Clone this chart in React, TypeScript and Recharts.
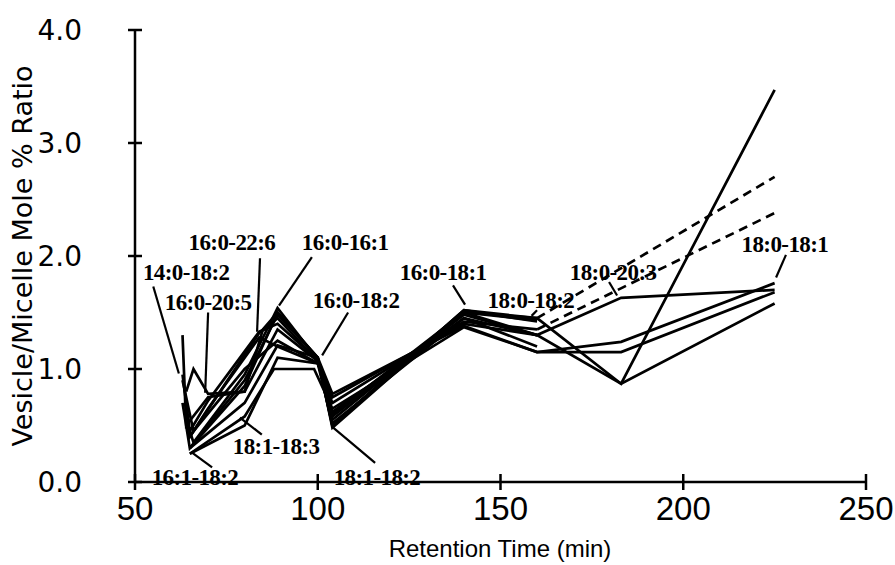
import React from 'react';
import { LineChart, Line, XAxis, YAxis, ReferenceLine, ReferenceDot } from 'recharts';

// retention time (min) / vesicle:micelle mole % ratio, one pair per species
const RT_14_0_18_2 = [63, 64, 70, 80, 89, 100, 104, 140, 160];
const RATIO_14_0_18_2 = [1.3, 0.5, 0.75, 0.8, 1.35, 1.07, 0.58, 1.48, 1.3];

const RT_16_0_20_5 = [64, 66, 70, 80, 85, 89, 100, 104, 140, 160];
const RATIO_16_0_20_5 = [0.8, 1.0, 0.78, 0.8, 1.35, 1.5, 1.1, 0.5, 1.52, 1.42];

const RT_16_0_22_6 = [63, 65, 70, 84, 89, 100, 104, 140, 160];
const RATIO_16_0_22_6 = [0.95, 0.45, 0.72, 1.33, 1.4, 1.08, 0.62, 1.45, 1.3];

const RT_16_0_16_1 = [64, 66, 80, 89, 100, 104, 140, 160, 183, 225];
const RATIO_16_0_16_1 = [0.55, 0.35, 0.95, 1.54, 1.08, 0.5, 1.52, 1.45, 0.87, 3.47];

const RT_16_0_18_2 = [63, 65, 80, 89, 100, 104, 140, 160, 183, 225];
const RATIO_16_0_18_2 = [0.7, 0.3, 0.85, 1.5, 1.1, 0.55, 1.5, 1.3, 0.87, 1.58];

const RT_16_0_18_1 = [64, 65, 84, 89, 100, 104, 140, 160];
const RATIO_16_0_18_1 = [0.6, 0.4, 1.32, 1.45, 1.07, 0.6, 1.5, 1.45];

const RT_18_0_18_2 = [63, 66, 80, 89, 100, 104, 140, 160];
const RATIO_18_0_18_2 = [0.9, 0.45, 1.0, 1.25, 1.05, 0.7, 1.42, 1.35];

const RT_18_0_20_3 = [65, 70, 84, 89, 100, 104, 140, 160, 183, 225];
const RATIO_18_0_20_3 = [0.4, 0.65, 1.28, 1.2, 1.05, 0.75, 1.4, 1.3, 1.63, 1.7];

const RT_18_0_18_1 = [65, 80, 89, 100, 104, 140, 160, 183, 225];
const RATIO_18_0_18_1 = [0.3, 0.7, 1.21, 1.1, 0.78, 1.38, 1.15, 1.24, 1.76];

const RT_18_1_18_3 = [65, 80, 88, 99, 104, 140, 160, 183, 225];
const RATIO_18_1_18_3 = [0.25, 0.58, 1.0, 1.0, 0.65, 1.37, 1.15, 1.15, 1.68];

const RT_16_1_18_2 = [65, 80, 89, 100, 104, 140, 160];
const RATIO_16_1_18_2 = [0.25, 0.5, 1.1, 1.05, 0.52, 1.45, 1.2];

const RT_18_1_18_2 = [65, 80, 89, 100, 104, 140, 160];
const RATIO_18_1_18_2 = [0.3, 0.9, 1.48, 1.1, 0.48, 1.5, 1.43];

// dashed extrapolations
const RT_TAIL = [160, 225];
const RATIO_16_0_18_1_TAIL = [1.45, 2.7];
const RATIO_18_0_18_2_TAIL = [1.35, 2.38];

const X_TICKS = [50, 100, 150, 200, 250];
const Y_TICKS = [0, 1, 2, 3, 4];

const toPoints = (xs: number[], ys: number[]) => xs.map((x, i) => ({ x, y: ys[i] }));

const SERIES = [
  { name: '14:0-18:2', data: toPoints(RT_14_0_18_2, RATIO_14_0_18_2) },
  { name: '16:0-20:5', data: toPoints(RT_16_0_20_5, RATIO_16_0_20_5) },
  { name: '16:0-22:6', data: toPoints(RT_16_0_22_6, RATIO_16_0_22_6) },
  { name: '16:0-16:1', data: toPoints(RT_16_0_16_1, RATIO_16_0_16_1) },
  { name: '16:0-18:2', data: toPoints(RT_16_0_18_2, RATIO_16_0_18_2) },
  { name: '16:0-18:1', data: toPoints(RT_16_0_18_1, RATIO_16_0_18_1) },
  { name: '18:0-18:2', data: toPoints(RT_18_0_18_2, RATIO_18_0_18_2) },
  { name: '18:0-20:3', data: toPoints(RT_18_0_20_3, RATIO_18_0_20_3) },
  { name: '18:0-18:1', data: toPoints(RT_18_0_18_1, RATIO_18_0_18_1) },
  { name: '18:1-18:3', data: toPoints(RT_18_1_18_3, RATIO_18_1_18_3) },
  { name: '16:1-18:2', data: toPoints(RT_16_1_18_2, RATIO_16_1_18_2) },
  { name: '18:1-18:2', data: toPoints(RT_18_1_18_2, RATIO_18_1_18_2) },
];

const TAILS = [
  { name: '16:0-18:1 tail', data: toPoints(RT_TAIL, RATIO_16_0_18_1_TAIL) },
  { name: '18:0-18:2 tail', data: toPoints(RT_TAIL, RATIO_18_0_18_2_TAIL) },
];

// species labels with their leader lines (data coords)
const ANNOTATIONS = [
  { text: '14:0-18:2', x: 64, y: 1.85, from: [55, 1.73], to: [62, 0.96] },
  { text: '16:0-20:5', x: 70, y: 1.59, from: [70, 1.5], to: [69.2, 0.79] },
  { text: '16:0-22:6', x: 76.5, y: 2.12, from: [84.2, 1.98], to: [83.4, 1.33] },
  { text: '16:0-16:1', x: 107.5, y: 2.12, from: [98.4, 1.99], to: [89.4, 1.56] },
  { text: '16:0-18:2', x: 110.5, y: 1.61, from: [108.3, 1.5], to: [101.2, 1.12] },
  { text: '16:0-18:1', x: 134.3, y: 1.85, from: [137, 1.74], to: [140.3, 1.57] },
  { text: '18:0-18:2', x: 158.3, y: 1.61, from: [160, 1.52], to: [158.5, 1.47] },
  { text: '18:0-20:3', x: 180.8, y: 1.85, from: [179.7, 1.77], to: [181.9, 1.65] },
  { text: '18:0-18:1', x: 227.8, y: 2.1, from: [228.1, 2.01], to: [225.4, 1.81] },
  { text: '18:1-18:3', x: 88.6, y: 0.31, from: [78.7, 0.57], to: [84.7, 0.42] },
  { text: '16:1-18:2', x: 66.4, y: 0.04, from: [65.6, 0.26], to: [71.1, 0.13] },
  { text: '18:1-18:2', x: 116.2, y: 0.04, from: [103.9, 0.49], to: [115.7, 0.17] },
];

const AXIS_X = 135;
const AXIS_Y = 482;

const YTick = (props: any) => {
  const { y, payload } = props;
  return (
    <g>
      <line x1={AXIS_X - 7} x2={AXIS_X + 7} y1={y} y2={y} stroke="#000" strokeWidth={2.5} />
      <text x={AXIS_X - 53} y={y} dy="0.36em" textAnchor="end" fontFamily="DejaVu Sans" fontSize={28} fill="#000">
        {Number(payload.value).toFixed(1)}
      </text>
    </g>
  );
};

const XTick = (props: any) => {
  const { x, payload } = props;
  return (
    <g>
      <line x1={x} x2={x} y1={AXIS_Y - 8} y2={AXIS_Y + 8} stroke="#000" strokeWidth={2.5} />
      <text x={x} y={AXIS_Y + 12} dy="0.8em" textAnchor="middle" fontFamily="Liberation Sans" fontSize={33} fill="#000">
        {payload.value}
      </text>
    </g>
  );
};

const AnnotationText = (text: string) => (props: any) => {
  const { viewBox } = props;
  const cx = viewBox.x + (viewBox.width || 0) / 2;
  const cy = viewBox.y + (viewBox.height || 0) / 2;
  return (
    <text x={cx} y={cy} textAnchor="middle" dominantBaseline="central" fontFamily="Liberation Serif" fontWeight={700} fontSize={23} fill="#000" letterSpacing={-0.6}>
      {text}
    </text>
  );
};

export default function App() {
  return (
    <div style={{ position: 'absolute', left: 0, top: 0, background: '#fff' }}>
      <LineChart width={895} height={565} margin={{ top: 30, right: 29, left: 0, bottom: 0 }}>
        <XAxis
          type="number"
          dataKey="x"
          domain={[50, 250]}
          ticks={X_TICKS}
          height={83}
          axisLine={{ stroke: '#000', strokeWidth: 2.5 }}
          tickLine={false}
          tick={<XTick />}
          label={{
            content: () => (
              <text x={500} y={548} textAnchor="middle" dominantBaseline="central" fontFamily="Liberation Sans" fontSize={24} fill="#000">
                Retention Time (min)
              </text>
            ),
          }}
        />
        <YAxis
          type="number"
          dataKey="y"
          domain={[0, 4]}
          ticks={Y_TICKS}
          width={135}
          axisLine={{ stroke: '#000', strokeWidth: 2.5 }}
          tickLine={false}
          tick={<YTick />}
          label={{
            content: () => (
              <text x={22} y={256} transform="rotate(-90, 22, 256)" textAnchor="middle" dominantBaseline="central" fontFamily="DejaVu Sans" fontSize={27} fill="#000">
                Vesicle/Micelle Mole % Ratio
              </text>
            ),
          }}
        />
        {SERIES.map((s) => (
          <Line key={s.name} data={s.data} dataKey="y" type="linear" stroke="#000" strokeWidth={2.7} dot={false} isAnimationActive={false} />
        ))}
        {TAILS.map((s) => (
          <Line key={s.name} data={s.data} dataKey="y" type="linear" stroke="#000" strokeWidth={2.7} strokeDasharray="9 6" dot={false} isAnimationActive={false} />
        ))}
        {ANNOTATIONS.map((a) => (
          <ReferenceLine
            key={'l' + a.text}
            segment={[{ x: a.from[0], y: a.from[1] }, { x: a.to[0], y: a.to[1] }]}
            stroke="#000"
            strokeWidth={2.2}
          />
        ))}
        {ANNOTATIONS.map((a) => (
          <ReferenceDot
            key={'t' + a.text}
            x={a.x}
            y={a.y}
            r={0}
            fill="none"
            stroke="none"
            label={{ content: AnnotationText(a.text) }}
          />
        ))}
      </LineChart>
    </div>
  );
}
